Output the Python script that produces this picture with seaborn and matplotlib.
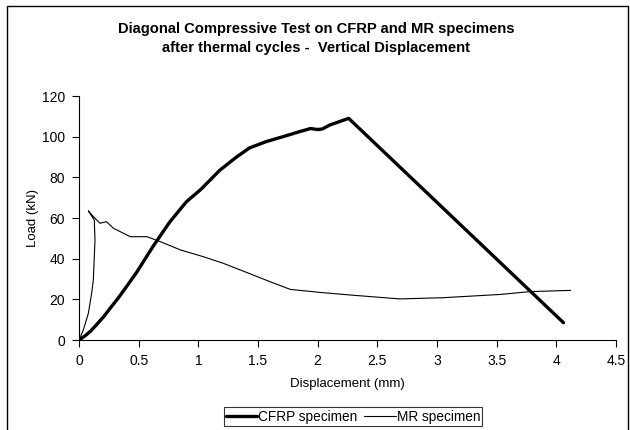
import matplotlib
matplotlib.use("Agg")
import matplotlib.pyplot as plt
import seaborn as sns
import pandas as pd
from matplotlib.patches import Rectangle

# CFRP specimen (displacement mm, load kN)
cfrp_x = [0.0, 0.05, 0.1, 0.2, 0.34, 0.48, 0.62, 0.76, 0.90, 1.02, 1.18, 1.32, 1.43, 1.57, 1.71, 1.85, 1.94, 2.0, 2.04, 2.10, 2.26, 4.06]
cfrp_y = [0.0, 2.0, 4.5, 11.0, 21.5, 33.0, 46.0, 58.0, 68.0, 74.0, 83.5, 90.0, 94.5, 97.6, 100.0, 102.5, 104.0, 103.5, 103.8, 105.7, 109.0, 8.5]

# MR specimen
mr_x = [0.0, 0.036, 0.078, 0.106, 0.12, 0.134, 0.128, 0.078, 0.12, 0.176, 0.23, 0.29, 0.43, 0.57, 0.68, 0.85, 1.04, 1.21, 1.41, 1.60, 1.77, 2.02, 2.3, 2.69, 3.05, 3.53, 3.78, 4.12]
mr_y = [0.0, 4.9, 13.0, 23.0, 29.5, 49.0, 59.0, 63.5, 60.7, 57.4, 58.2, 54.9, 50.8, 50.8, 48.4, 44.3, 41.0, 37.7, 33.1, 28.7, 24.9, 23.4, 22.0, 20.2, 20.8, 22.4, 23.8, 24.4]

x_ticks = [0, 0.5, 1, 1.5, 2, 2.5, 3, 3.5, 4, 4.5]
y_ticks = [0, 20, 40, 60, 80, 100, 120]

sns.set_style("ticks")
plt.rcParams['font.family'] = ['Liberation Sans', 'DejaVu Sans']
plt.rcParams['text.color'] = 'black'
plt.rcParams['axes.labelcolor'] = 'black'

fig = plt.figure(figsize=(6.3, 4.3), dpi=100)
ax = fig.add_axes([79/630, 1-340/430, (616-79)/630, (340-96)/430])

df_c = pd.DataFrame({"x": cfrp_x, "y": cfrp_y})
df_m = pd.DataFrame({"x": mr_x, "y": mr_y})
sns.lineplot(data=df_c, x="x", y="y", sort=False, estimator=None,
             ax=ax, color="black", linewidth=2.4, label="CFRP specimen", solid_capstyle="round")
sns.lineplot(data=df_m, x="x", y="y", sort=False, estimator=None, ax=ax, color="black",
             linewidth=0.8, label="MR specimen")

ax.set_xlim(0, 4.5)
ax.set_ylim(0, 120)
ax.set_xticks(x_ticks)
ax.set_xticklabels([f"{t:g}" for t in x_ticks])
ax.set_yticks(y_ticks)
ax.tick_params(axis="both", direction="out", length=5, width=0.8, labelsize=10, colors="black", pad=5)
for s in ["top", "right"]:
    ax.spines[s].set_visible(False)
for s in ["left", "bottom"]:
    ax.spines[s].set_color("black")
    ax.spines[s].set_linewidth(0.8)
ax.set_xlabel("Displacement (mm)", fontsize=9.5, labelpad=7)
ax.set_ylabel("Load (kN)", fontsize=9.5, labelpad=2)

handles, labels = ax.get_legend_handles_labels()
ax.get_legend().remove()
leg = fig.legend(handles, labels, loc="center", bbox_to_anchor=(353/630, 1-416.5/430), ncol=2,
                 fontsize=9.8, frameon=True, fancybox=False, edgecolor="black", handlelength=2.3,
                 handletextpad=0.1, columnspacing=0.5, borderpad=0.15, borderaxespad=0)
leg.get_frame().set_linewidth(0.8)

fig.text(0.502, 1-29/430, "Diagonal Compressive Test on CFRP and MR specimens", ha="center", va="center",
         fontsize=10.6, fontweight="bold")
fig.text(0.502, 1-48/430, "after thermal cycles -  Vertical Displacement", ha="center", va="center",
         fontsize=10.6, fontweight="bold")

fig.patches.append(Rectangle((7/630, -0.05), (628-7)/630, (1-6/430)+0.05, transform=fig.transFigure,
                             fill=False, edgecolor="black", linewidth=1.0))

fig.savefig("out.png", dpi=100)
